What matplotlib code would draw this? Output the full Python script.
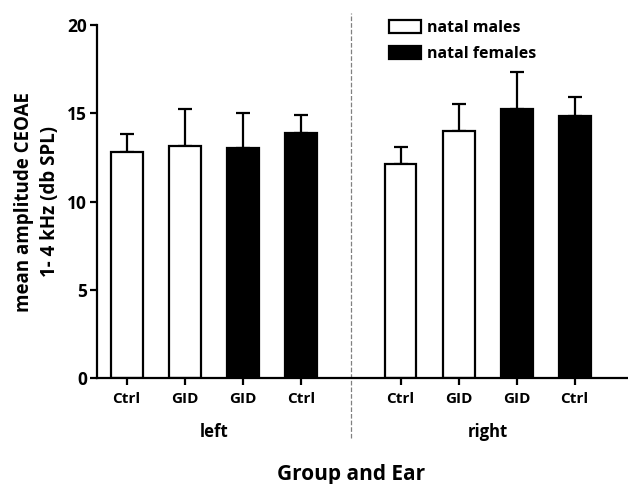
import numpy as np
import matplotlib.pyplot as plt
from matplotlib.patches import Patch

plt.rcParams['font.family'] = ['Open Sans', 'DejaVu Sans']
plt.rcParams['font.weight'] = 'bold'

# Données
groups = ['Ctrl', 'GID', 'GID', 'Ctrl', 'Ctrl', 'GID', 'GID', 'Ctrl']
means = [12.8, 13.15, 13.05, 13.9, 12.15, 14.0, 15.25, 14.85]
sem = [1.05, 2.07, 1.95, 1.0, 0.95, 1.55, 2.1, 1.05]
is_female = [False, False, True, True, False, False, True, True]
ears = ['left', 'right']

pos = np.array([0, 1, 2, 3, 4.72, 5.72, 6.72, 7.72])
colors = ['black' if f else 'white' for f in is_female]

fig = plt.figure(figsize=(6.28, 4.84), dpi=100)
ax = fig.add_axes([0.1545, 0.219, 0.8455, 0.729])

ax.bar(pos, means, width=0.55, color=colors, edgecolor='black', linewidth=1.6,
       yerr=[np.zeros(len(sem)), sem], zorder=2,
       error_kw=dict(ecolor='black', elinewidth=1.6, capsize=5, capthick=1.6, zorder=1))

ax.set_ylim(0, 20)
ax.set_xlim(-0.51, 8.64)
ax.set_yticks([0, 5, 10, 15, 20])
ax.set_xticks(pos)
ax.set_xticklabels(groups)
ax.tick_params(axis='both', width=1.6, length=5)
ax.tick_params(axis='x', pad=5, labelsize=11)
ax.tick_params(axis='y', pad=2, labelsize=12.5)
for lab in ax.get_yticklabels() + ax.get_xticklabels():
    lab.set_fontweight('bold')
for s in ['top', 'right']:
    ax.spines[s].set_visible(False)
for s in ['left', 'bottom']:
    ax.spines[s].set_linewidth(1.6)

ax.set_ylabel('mean amplitude CEOAE\n1- 4 kHz (db SPL)', fontsize=13.5, fontweight='bold',
              labelpad=5, linespacing=1.45)

# Ligne de séparation gauche / droite
xsep = (pos[3] + pos[4]) / 2
ax.plot([xsep, xsep], [-3.4, 20.7], color='grey', linestyle='--', linewidth=0.9,
        clip_on=False, zorder=0)

# Étiquettes d'oreille et titre de l'axe x
ax.text(pos[:4].mean(), -3.05, ears[0], ha='center', va='center', fontsize=12, fontweight='bold')
ax.text(pos[4:].mean(), -3.05, ears[1], ha='center', va='center', fontsize=12, fontweight='bold')
ax.text(xsep, -5.45, 'Group and Ear', ha='center', va='center', fontsize=15, fontweight='bold')

handles = [Patch(facecolor='white', edgecolor='black', linewidth=1.6, label='natal males'),
           Patch(facecolor='black', edgecolor='black', linewidth=1.6, label='natal females')]
ax.legend(handles=handles, loc='upper left', bbox_to_anchor=(0.523, 1.055), frameon=False,
          prop={'weight': 'bold', 'size': 11.5}, handlelength=2.0, handleheight=0.9,
          handletextpad=0.4, labelspacing=0.6)

fig.savefig('out.png', dpi=100)
